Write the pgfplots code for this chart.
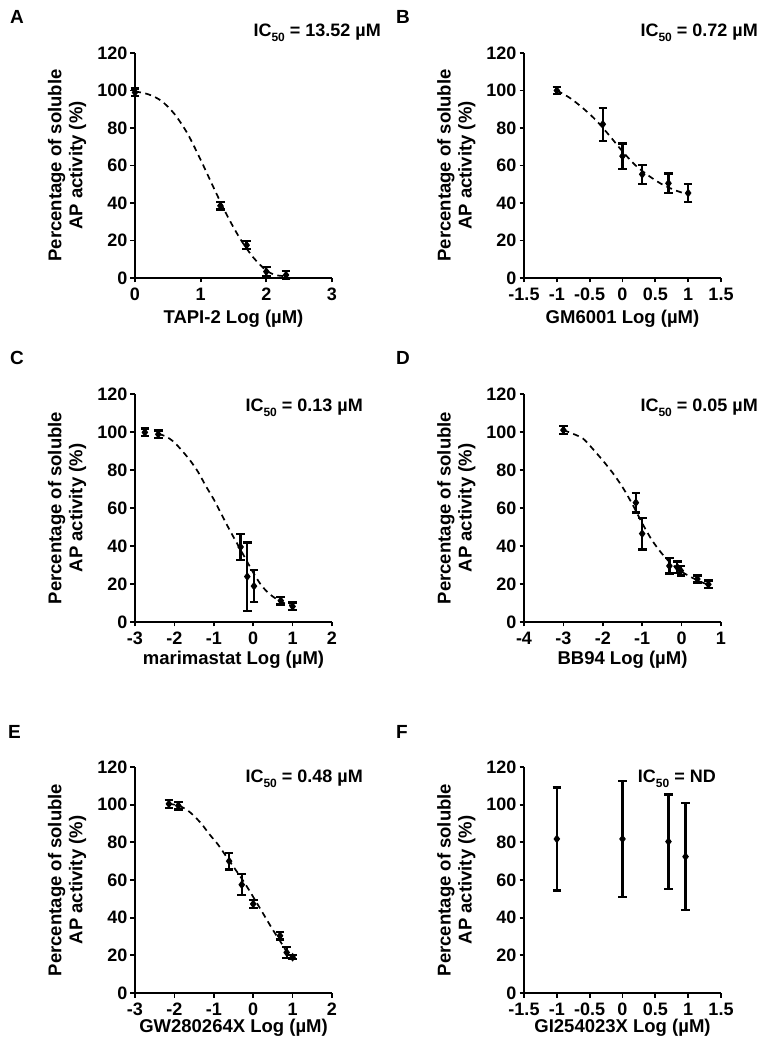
\documentclass[border=0pt]{standalone}
\usepackage{pgfplots}
\pgfplotsset{compat=1.18}
\usepackage{fontspec}
\setmainfont{Liberation Sans}
\newcommand{\fs}[1]{\fontsize{#1}{#1}\selectfont\bfseries}
\pgfplotsset{
  panel/.style={
    scale only axis, width=197pt,
    axis lines=left, axis line style={-, line width=1.7pt},
    ymin=0, ymax=120, ytick={0,20,...,120},
    tick align=outside, major tick length=4.5pt,
    tick style={black, line width=1.7pt},
    clip=false,
    /pgf/number format/assume math mode=true,
    tick label style={font=\fs{18}},
    yticklabel style={inner sep=3pt},
    xticklabel style={inner sep=5pt},
    label style={font=\fontsize{18.5}{21}\selectfont\bfseries},
    ylabel={Percentage of soluble\\AP activity (\%)},
    ylabel style={align=center, at={(axis description cs:-0.246,0.5)}, anchor=south, inner sep=0pt},
    xlabel style={at={(axis description cs:0.5,0)}, anchor=base, inner sep=0pt},
    anchor=south west,
  },
  dat/.style={black, mark=diamond*, mark size=3.6pt, only marks, line width=2.2pt,
     mark options={line width=1pt},
     error bars/.cd, y dir=both, y explicit,
     error bar style={black, line width=2.3pt},
     error mark options={rotate=90, mark size=4.3pt, line width=2.3pt}},
  fit/.style={black, line width=1.7pt, dash pattern=on 6pt off 4.5pt, smooth, no marks},
}
\begin{document}
\begin{tikzpicture}
\path[use as bounding box] (0pt,0pt) rectangle (763pt,1050pt);
% ---------- A ----------
\begin{axis}[panel, at={(135pt,772pt)}, height=225pt,
  xmin=0, xmax=3, xtick={0,1,2,3},
  xlabel={TAPI-2 Log (µM)}, xlabel style={yshift=-46pt}]
\addplot[fit] coordinates {(0,99.5) (0.2,98) (0.4,94.5) (0.6,87.5) (0.8,77) (1.0,63) (1.2,48) (1.4,33.5) (1.6,21) (1.8,11) (2.0,4) (2.15,1.5) (2.3,1)};
\addplot[dat] coordinates {(0,99) +- (0,2) (1.3,38.5) +- (0,2) (1.7,17.5) +- (0,2.2) (2.0,3.4) +- (0,2.5) (2.3,1.6) +- (0,2)};
\end{axis}
% ---------- B ----------
\begin{axis}[panel, at={(524pt,772pt)}, height=225pt,
  xmin=-1.5, xmax=1.5, xtick={-1.5,-1,...,1.5},
  xlabel={GM6001 Log (µM)}, xlabel style={yshift=-46pt}]
\addplot[fit] coordinates {(-1,100) (-0.8,96) (-0.6,90.5) (-0.4,84) (-0.2,76) (0,67.5) (0.2,60) (0.4,54.5) (0.6,50) (0.8,46.8) (1.0,44.5)};
\addplot[dat] coordinates {(-1,100) +- (0,2) (-0.3,82) +- (0,8.8) (0,65) +- (0,6.7) (0.3,55.3) +- (0,5) (0.7,50.5) +- (0,5.2) (1.0,45.3) +- (0,4.7)};
\end{axis}
% ---------- C ----------
\begin{axis}[panel, at={(135pt,428pt)}, height=228pt,
  xmin=-3, xmax=2, xtick={-3,-2,...,2},
  xlabel={marimastat Log (µM)}, xlabel style={yshift=-43pt}]
\addplot[fit] coordinates {(-2.4,99) (-2.2,97.5) (-2,94.5) (-1.8,90) (-1.6,85) (-1.4,79) (-1.2,71.5) (-1,64.5) (-0.8,56.5) (-0.6,48.5) (-0.4,41) (-0.2,33.5) (0,26) (0.2,19.5) (0.4,15) (0.6,12) (0.8,9.8) (1,8.5)};
\addplot[dat] coordinates {(-2.75,99.8) +- (0,2) (-2.41,98.8) +- (0,2) (-0.32,39.5) +- (0,6.9) (-0.15,23.9) +- (0,18) (0.02,18.9) +- (0,8.5) (0.7,11.2) +- (0,2) (1.0,8.2) +- (0,2)};
\end{axis}
% ---------- D ----------
\begin{axis}[panel, at={(524pt,428pt)}, height=228pt,
  xmin=-4, xmax=1, xtick={-4,-3,...,1},
  xlabel={BB94 Log (µM)}, xlabel style={yshift=-43pt}]
\addplot[fit] coordinates {(-3,101) (-2.75,99) (-2.5,96.5) (-2.25,91) (-2,85) (-1.75,78.5) (-1.5,71) (-1.25,62) (-1,52) (-0.75,43) (-0.5,36) (-0.25,30.5) (0,26.5) (0.25,23.5) (0.5,21) (0.7,19.5)};
\addplot[dat] coordinates {(-3,101) +- (0,2) (-1.16,62.8) +- (0,5.2) (-1.0,46.5) +- (0,8.3) (-0.31,29.5) +- (0,4) (-0.11,28.8) +- (0,3) (-0.02,27) +- (0,2.5) (0.4,22.6) +- (0,1.8) (0.68,19.8) +- (0,2)};
\end{axis}
% ---------- E ----------
\begin{axis}[panel, at={(135pt,57pt)}, height=226pt,
  xmin=-3, xmax=2, xtick={-3,-2,...,2},
  xlabel={GW280264X Log (µM)}, xlabel style={yshift=-39pt}]
\addplot[fit] coordinates {(-2.14,100.5) (-1.9,99.5) (-1.7,97.5) (-1.5,94) (-1.3,89.5) (-1.1,84) (-0.9,79) (-0.7,73) (-0.5,67) (-0.3,61) (-0.1,54.5) (0.1,47.5) (0.3,40.5) (0.5,33.5) (0.7,27) (0.85,22) (1.0,18.5)};
\addplot[dat] coordinates {(-2.14,100.4) +- (0,2) (-1.9,99.5) +- (0,2) (-0.61,70) +- (0,4.5) (-0.29,57.5) +- (0,5.6) (0,47.3) +- (0,2) (0.68,30.4) +- (0,2) (0.85,21.5) +- (0,3) (1.0,19) +- (0,1)};
\end{axis}
% ---------- F ----------
\begin{axis}[panel, at={(524pt,57pt)}, height=226pt,
  xmin=-1.5, xmax=1.5, xtick={-1.5,-1,...,1.5},
  xlabel={GI254023X Log (µM)}, xlabel style={yshift=-39pt}]
\addplot[dat] coordinates {(-1,81.8) +- (0,27.3) (0,81.8) +- (0,30.7) (0.7,80.4) +- (0,25) (0.96,72.4) +- (0,28.3)};
\end{axis}
% panel letters
\begin{scope}[every node/.style={font=\fs{19}, inner sep=0pt}]
\node[anchor=base west] at (10pt,1026.7pt) {A};
\node[anchor=base west] at (396pt,1026.7pt) {B};
\node[anchor=base west] at (10pt,685pt) {C};
\node[anchor=base west] at (396pt,685pt) {D};
\node[anchor=base west] at (8pt,311.7pt) {E};
\node[anchor=base west] at (396pt,311.7pt) {F};
\end{scope}
% IC50 annotations
\newcommand{\ic}{IC\raisebox{-4.5pt}{\fontsize{12}{12}\selectfont\bfseries 50}}
\begin{scope}[every node/.style={font=\fs{18}, inner sep=0pt, anchor=base east}]
\node at (381pt,1013pt) {\ic{} = 13.52 µM};
\node at (758pt,1013pt) {\ic{} = 0.72 µM};
\node at (363pt,638pt) {\ic{} = 0.13 µM};
\node at (758pt,638pt) {\ic{} = 0.05 µM};
\node at (363pt,267pt) {\ic{} = 0.48 µM};
\node at (716pt,267pt) {\ic{} = ND};
\end{scope}
\end{tikzpicture}
\end{document}
